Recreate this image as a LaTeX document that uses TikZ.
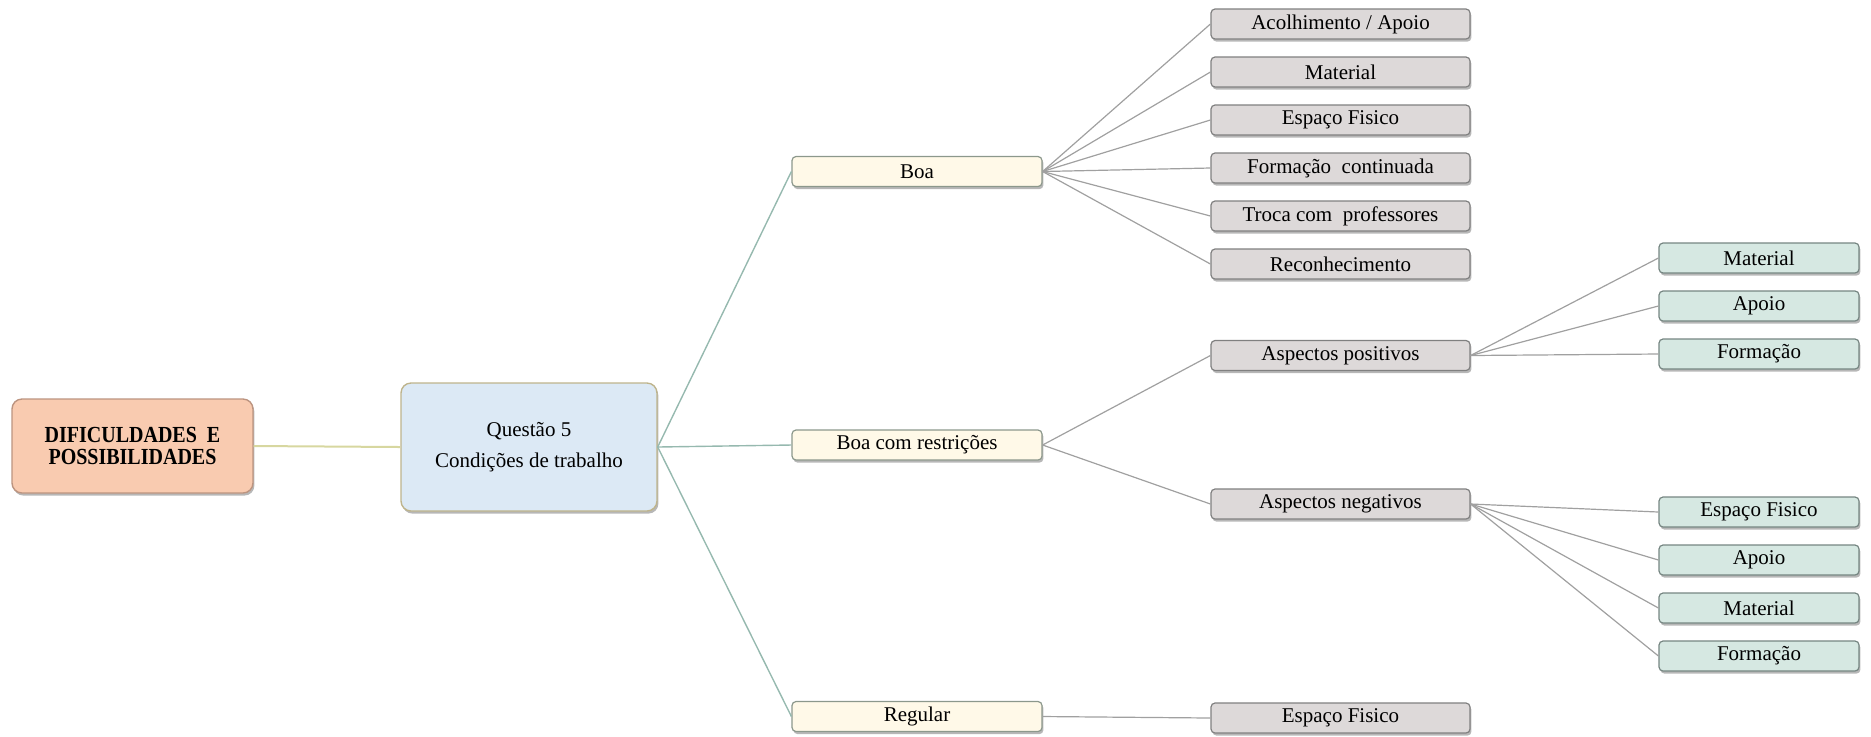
\documentclass[tikz,border=0pt]{standalone}
\usepackage{fontspec}
\setmainfont{Liberation Serif}
\newfontfamily\condserif[FakeStretch=0.87]{Liberation Serif}
\usetikzlibrary{shadows}

\definecolor{rootfill}{RGB}{249,203,176}
\definecolor{rootdraw}{RGB}{188,148,128}
\definecolor{qfill}{RGB}{220,233,245}
\definecolor{qdraw}{RGB}{190,180,140}
\definecolor{creamfill}{RGB}{255,249,232}
\definecolor{creamdraw}{RGB}{140,152,140}
\definecolor{grayfill}{RGB}{221,217,217}
\definecolor{graydraw}{RGB}{128,128,128}
\definecolor{tealfill}{RGB}{214,232,226}
\definecolor{tealdraw}{RGB}{118,134,130}
\definecolor{linkgray}{RGB}{160,160,160}
\definecolor{linkteal}{RGB}{150,185,175}
\definecolor{linkolive}{RGB}{215,215,160}

\begin{document}
\begin{tikzpicture}[x=0.5pt,y=-0.5pt,
  shade/.style={drop shadow={shadow xshift=0.7pt,shadow yshift=-1.3pt,opacity=0.4,fill=black!70}},
  txt/.style={font=\fontsize{10.5}{12.5}\selectfont, align=center, inner sep=0pt},
  bigbox/.style={txt, shade, rounded corners=5pt, line width=0.7pt, minimum height=64pt},
  rootbox/.style={bigbox, fill=rootfill, draw=rootdraw, minimum width=120.5pt, minimum height=47pt,
    font=\condserif\bfseries\fontsize{11.5}{11}\selectfont},
  qbox/.style={bigbox, fill=qfill, draw=qdraw, minimum width=128pt,
    font=\fontsize{10.5}{15.5}\selectfont},
  smallbox/.style={txt, shade, rounded corners=2pt, line width=0.6pt, minimum height=15pt},
  optbox/.style={smallbox, fill=creamfill, draw=creamdraw, minimum width=125pt},
  itembox/.style={smallbox, fill=grayfill, draw=graydraw, minimum width=129.5pt},
  subbox/.style={smallbox, fill=tealfill, draw=tealdraw, minimum width=100pt},
  link/.style={draw=linkgray, line width=0.6pt},
]
\useasboundingbox (0,0) rectangle (1871,736);

% root and question
\node[rootbox] (root) at (132.5,446) {DIFICULDADES\ \ E\\POSSIBILIDADES};
\node[qbox] (q) at (529,447) {Questão 5\\Condições de trabalho};

% answer options
\node[optbox] (boa) at (917,171.5) {Boa};
\node[optbox] (bcr) at (917,445) {Boa com restrições};
\node[optbox] (reg) at (917,716.5) {Regular};

% items under "Boa"
\node[itembox] (b1) at (1340.5,24)  {Acolhimento / Apoio};
\node[itembox] (b2) at (1340.5,72)  {Material};
\node[itembox] (b3) at (1340.5,120) {Espaço Fisico};
\node[itembox] (b4) at (1340.5,168) {Formação\ \ continuada};
\node[itembox] (b5) at (1340.5,216) {Troca com\ \ professores};
\node[itembox] (b6) at (1340.5,264) {Reconhecimento};

% aspects under "Boa com restrições"
\node[itembox] (pos) at (1340.5,355.5) {Aspectos positivos};
\node[itembox] (neg) at (1340.5,504)   {Aspectos negativos};

% item under "Regular"
\node[itembox] (r1) at (1340.5,718) {Espaço Fisico};

% positive aspects
\node[subbox] (p1) at (1759,258) {Material};
\node[subbox] (p2) at (1759,306) {Apoio};
\node[subbox] (p3) at (1759,354) {Formação};

% negative aspects
\node[subbox] (n1) at (1759,512) {Espaço Fisico};
\node[subbox] (n2) at (1759,560) {Apoio};
\node[subbox] (n3) at (1759,608) {Material};
\node[subbox] (n4) at (1759,656) {Formação};

% connectors
\draw[draw=linkolive, line width=1pt] (root.east) -- (q.west);
\foreach \t in {boa,bcr,reg} \draw[draw=linkteal, line width=0.7pt] (q.east) -- (\t.west);
\foreach \t in {b1,b2,b3,b4,b5,b6} \draw[link] (boa.east) -- (\t.west);
\foreach \t in {pos,neg} \draw[link] (bcr.east) -- (\t.west);
\draw[link] (reg.east) -- (r1.west);
\foreach \t in {p1,p2,p3} \draw[link] (pos.east) -- (\t.west);
\foreach \t in {n1,n2,n3,n4} \draw[link] (neg.east) -- (\t.west);
\end{tikzpicture}
\end{document}
